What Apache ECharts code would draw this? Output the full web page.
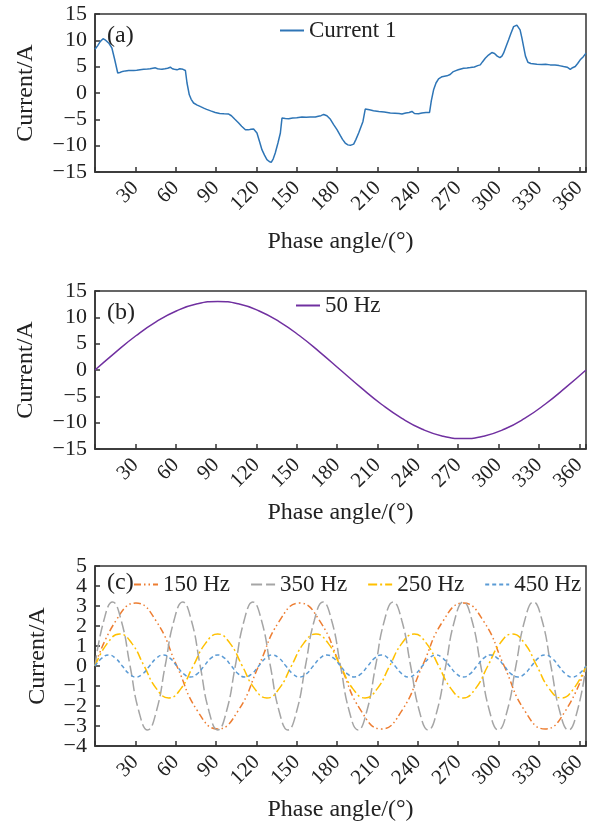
<!DOCTYPE html>
<html>
<head>
<meta charset="utf-8">
<script src="https://cdn.jsdelivr.net/npm/echarts@6/dist/echarts.min.js"></script>
<style>
  html, body { margin: 0; padding: 0; background: #fff; }
  #chart { width: 597px; height: 831px; }
</style>
</head>
<body>
<div id="chart"></div>
<script>
// x tick labels shared by the three panels
const xTickLabels = [30, 60, 90, 120, 150, 180, 210, 240, 270, 300, 330, 360]

// (a) measured current, [phase angle, current]
const current1 = [
  [0, 8.3], [2, 9.0], [4, 9.8], [6, 10.3], [7.5, 10.1], [8.5, 9.95], [10.5, 9.4], [12.6, 8.5],
  [14.5, 6.5], [16.9, 3.8], [18.5, 3.9], [20.5, 4.1], [22.6, 4.2], [25, 4.25], [28.8, 4.27],
  [31, 4.3], [33.5, 4.4], [36.2, 4.5], [39, 4.55], [41, 4.6], [43, 4.7], [44.9, 4.78], [46.5, 4.6],
  [48, 4.55], [49.8, 4.5], [52, 4.6], [54, 4.7], [56, 4.9], [57.5, 4.6], [59, 4.5], [61, 4.4],
  [63, 4.6], [65.4, 4.5], [67.2, 4.27], [68.4, 1.9], [70.1, -0.34], [71.5, -1.2], [73.3, -1.9],
  [76, -2.3], [78.5, -2.6], [80.8, -2.87], [83, -3.1], [86, -3.4], [89.4, -3.7], [92.7, -3.9],
  [96, -3.95], [99.4, -4.0], [101.4, -4.32], [104, -5.0], [106.8, -5.7], [109, -6.3], [111.8, -6.97],
  [114, -7.0], [116, -6.9], [117.9, -6.85], [120.4, -7.6], [122.3, -9.2], [124.1, -10.76],
  [126, -11.8], [127.8, -12.66], [129.5, -13.0], [131, -13.17], [132.5, -12.5], [134, -11.4],
  [136, -9.5], [137.8, -7.6], [139, -4.76], [141.5, -4.85], [144, -4.9], [147, -4.75], [150, -4.7],
  [153.9, -4.57], [157, -4.6], [160, -4.55], [163.8, -4.57], [166, -4.4], [168, -4.3], [170, -4.07],
  [172.4, -4.32], [175, -5.0], [177.4, -6.0], [180, -7.0], [182.4, -8.1], [184, -8.8], [186, -9.5],
  [188, -9.85], [189.8, -9.94], [192.3, -9.7], [194, -8.8], [196, -7.6], [197.6, -6.5],
  [199.2, -5.4], [200.9, -3.05], [204, -3.2], [207, -3.37], [211, -3.5], [215, -3.6], [219.5, -3.8],
  [223, -3.85], [226, -3.9], [228.2, -4.0], [231, -3.8], [233.5, -3.7], [235.6, -3.5], [237.5, -3.9],
  [240.5, -3.94], [243, -3.8], [246, -3.7], [248.7, -3.7], [250, -1.5], [251.7, 0.6], [253.5, 1.9],
  [255.4, 2.7], [258, 3.1], [261.6, 3.26], [264, 3.5], [266, 4.0], [267.8, 4.2], [270, 4.4],
  [274, 4.7], [276.5, 4.75], [279, 4.83], [282, 4.95], [284.5, 5.2], [286.4, 5.34], [288, 5.9],
  [290.1, 6.6], [292.5, 7.2], [295, 7.68], [297, 7.5], [299, 7.0], [301, 6.7], [302.5, 7.0],
  [303.7, 7.56], [305.5, 8.8], [307.4, 10.08], [309.3, 11.4], [311.2, 12.6], [313.6, 12.9],
  [315, 12.6], [316, 12.0], [317.3, 10.5], [318.6, 8.8], [320, 7.0], [321.8, 5.85], [324, 5.6],
  [328.5, 5.47], [332, 5.4], [335, 5.45], [338.4, 5.34], [342, 5.3], [345, 5.2], [348.3, 5.03],
  [351, 4.9], [353.3, 4.5], [355, 4.8], [357, 5.03], [358.8, 5.6], [360.7, 6.3], [363, 6.9], [365, 7.56]
]

// (b) and 150 Hz share these angles
const angle3 = [0, 15.21, 30.42, 45.63, 60.83, 76.04, 91.25, 106.46, 121.67, 136.88, 152.08, 167.29,
  182.5, 197.71, 212.92, 228.13, 243.33, 258.54, 273.75, 288.96, 304.17, 319.38, 334.58, 349.79, 365]
const fundamental = [0, 3.36, 6.5, 9.19, 11.26, 12.56, 13, 12.56, 11.26, 9.19, 6.5, 3.36,
  0, -3.36, -6.5, -9.19, -11.26, -12.56, -13, -12.56, -11.26, -9.19, -6.5, -3.36, 0]
const h150 = [0, 2.23, 3.15, 2.23, 0, -2.23, -3.15, -2.23, 0, 2.23, 3.15, 2.23, 0, -2.23, -3.15, -2.23,
  0, 2.23, 3.15, 2.23, 0, -2.23, -3.15, -2.23, 0]

const angle5 = [0, 9.13, 18.25, 27.38, 36.5, 45.63, 54.75, 63.88, 73, 82.13, 91.25, 100.38, 109.5,
  118.63, 127.75, 136.88, 146, 155.13, 164.25, 173.38, 182.5, 191.63, 200.75, 209.88, 219, 228.13,
  237.25, 246.38, 255.5, 264.63, 273.75, 282.88, 292, 301.13, 310.25, 319.38, 328.5, 337.63, 346.75,
  355.88, 365]
const h250 = [0, 1.13, 1.6, 1.13, 0, -1.13, -1.6, -1.13, 0, 1.13, 1.6, 1.13, 0, -1.13, -1.6, -1.13,
  0, 1.13, 1.6, 1.13, 0, -1.13, -1.6, -1.13, 0, 1.13, 1.6, 1.13, 0, -1.13, -1.6, -1.13,
  0, 1.13, 1.6, 1.13, 0, -1.13, -1.6, -1.13, 0]

const angle7 = [0, 6.52, 13.04, 19.55, 26.07, 32.59, 39.11, 45.63, 52.14, 58.66, 65.18, 71.7, 78.21,
  84.73, 91.25, 97.77, 104.29, 110.8, 117.32, 123.84, 130.36, 136.88, 143.39, 149.91, 156.43, 162.95,
  169.46, 175.98, 182.5, 189.02, 195.54, 202.05, 208.57, 215.09, 221.61, 228.13, 234.64, 241.16,
  247.68, 254.2, 260.71, 267.23, 273.75, 280.27, 286.79, 293.3, 299.82, 306.34, 312.86, 319.38,
  325.89, 332.41, 338.93, 345.45, 351.96, 358.48, 365]
const h350 = [0, 2.26, 3.2, 2.26, 0, -2.26, -3.2, -2.26, 0, 2.26, 3.2, 2.26, 0, -2.26, -3.2, -2.26,
  0, 2.26, 3.2, 2.26, 0, -2.26, -3.2, -2.26, 0, 2.26, 3.2, 2.26, 0, -2.26, -3.2, -2.26,
  0, 2.26, 3.2, 2.26, 0, -2.26, -3.2, -2.26, 0, 2.26, 3.2, 2.26, 0, -2.26, -3.2, -2.26,
  0, 2.26, 3.2, 2.26, 0, -2.26, -3.2, -2.26, 0]

const angle9 = [0, 5.07, 10.14, 15.21, 20.28, 25.35, 30.42, 35.49, 40.56, 45.63, 50.69, 55.76, 60.83,
  65.9, 70.97, 76.04, 81.11, 86.18, 91.25, 96.32, 101.39, 106.46, 111.53, 116.6, 121.67, 126.74,
  131.81, 136.88, 141.94, 147.01, 152.08, 157.15, 162.22, 167.29, 172.36, 177.43, 182.5, 187.57,
  192.64, 197.71, 202.78, 207.85, 212.92, 217.99, 223.06, 228.13, 233.19, 238.26, 243.33, 248.4,
  253.47, 258.54, 263.61, 268.68, 273.75, 278.82, 283.89, 288.96, 294.03, 299.1, 304.17, 309.24,
  314.31, 319.38, 324.44, 329.51, 334.58, 339.65, 344.72, 349.79, 354.86, 359.93, 365]
const h450 = [0, 0.39, 0.55, 0.39, 0, -0.39, -0.55, -0.39, 0, 0.39, 0.55, 0.39, 0, -0.39, -0.55, -0.39,
  0, 0.39, 0.55, 0.39, 0, -0.39, -0.55, -0.39, 0, 0.39, 0.55, 0.39, 0, -0.39, -0.55, -0.39,
  0, 0.39, 0.55, 0.39, 0, -0.39, -0.55, -0.39, 0, 0.39, 0.55, 0.39, 0, -0.39, -0.55, -0.39,
  0, 0.39, 0.55, 0.39, 0, -0.39, -0.55, -0.39, 0, 0.39, 0.55, 0.39, 0, -0.39, -0.55, -0.39,
  0, 0.39, 0.55, 0.39, 0, -0.39, -0.55, -0.39, 0]

const FONT = '"Liberation Serif", "Times New Roman", serif'
const TEXT = '#222'
const AXIS = '#333'

const zip = (xs, ys) => xs.map((x, i) => [x, ys[i]])
const minus = v => v < 0 ? '\u2212' + Math.abs(v) : String(v)

function xAxisOf(idx, gap) {
  return {
    type: 'value', gridIndex: idx, min: 0, max: 365, interval: 30,
    name: 'Phase angle/(°)', nameLocation: 'middle', nameGap: gap,
    nameTextStyle: { fontFamily: FONT, fontSize: 24, color: TEXT },
    axisLine: { show: true, onZero: false, lineStyle: { color: AXIS, width: 1.5 } },
    axisTick: { show: true, inside: true, length: 5, lineStyle: { color: AXIS, width: 1.5 } },
    axisLabel: {
      rotate: 45, margin: 13, fontFamily: FONT, fontSize: 21, color: TEXT,
      formatter: v => xTickLabels.indexOf(v) >= 0 ? String(v) : ''
    },
    splitLine: { show: false }
  }
}

function yAxisOf(idx, min, max, step, gap, fmt) {
  return {
    type: 'value', gridIndex: idx, position: 'left', min: min, max: max, interval: step,
    name: 'Current/A', nameLocation: 'middle', nameGap: gap,
    nameTextStyle: { fontFamily: FONT, fontSize: 24, color: TEXT },
    axisLine: { show: true, onZero: false, lineStyle: { color: AXIS, width: 1.5 } },
    axisTick: { show: true, inside: true, length: 5, lineStyle: { color: AXIS, width: 1.5 } },
    axisLabel: {
      margin: 8, fontFamily: FONT, fontSize: 22, color: TEXT,
      showMinLabel: true, showMaxLabel: true,
      formatter: fmt || minus
    },
    splitLine: { show: false }
  }
}

// panel (c) labels sit 20 px apart, so odd and even ones go on two stacked axes
const evenOnly = v => v % 2 === 0 ? minus(v) : ''
const oddOnly = v => v % 2 !== 0 ? minus(v) : ''
const cOdd = yAxisOf(2, -4, 5, 1, 45, oddOnly)
cOdd.name = ''
cOdd.axisLine = { show: false }
cOdd.axisTick = { show: false }

const legendText = { fontFamily: FONT, fontSize: 23, color: TEXT }
const titleText = { fontFamily: FONT, fontSize: 24, color: TEXT, fontWeight: 'normal' }
// hide the marker that line series put in the middle of the legend icon
const noMarker = { opacity: 0 }

const myChart = echarts.init(document.getElementById('chart'))
const option = {
  animation: false,
  title: [
    { text: '(a)', left: 107, top: 24, padding: 0, textStyle: titleText },
    { text: '(b)', left: 107, top: 301, padding: 0, textStyle: titleText },
    { text: '(c)', left: 107, top: 571, padding: 0, textStyle: titleText }
  ],
  legend: [
    { data: ['Current 1'], left: 279, top: 19, padding: 0, itemWidth: 24, itemHeight: 14, itemStyle: noMarker, textStyle: legendText },
    { data: ['50 Hz'], left: 295, top: 294, padding: 0, itemWidth: 24, itemHeight: 14, itemStyle: noMarker, textStyle: legendText },
    {
      data: ['150 Hz', '350 Hz', '250 Hz', '450 Hz'], left: 133, top: 573, padding: 0,
      itemWidth: 24, itemHeight: 14, itemGap: 20, itemStyle: noMarker, textStyle: legendText
    }
  ],
  grid: [
    { left: 95, right: 11, top: 14, height: 158, show: true, borderColor: AXIS, borderWidth: 1.5 },
    { left: 95, right: 11, top: 291, height: 158, show: true, borderColor: AXIS, borderWidth: 1.5 },
    { left: 95, right: 11, top: 566, height: 180, show: true, borderColor: AXIS, borderWidth: 1.5 }
  ],
  xAxis: [xAxisOf(0, 58), xAxisOf(1, 52), xAxisOf(2, 52)],
  yAxis: [
    yAxisOf(0, -15, 15, 5, 57),
    yAxisOf(1, -15, 15, 5, 57),
    yAxisOf(2, -4, 5, 1, 45, evenOnly),
    cOdd
  ],
  series: [
    {
      name: 'Current 1', type: 'line', xAxisIndex: 0, yAxisIndex: 0, symbol: 'none',
      lineStyle: { color: '#2E75B6', width: 1.5 }, itemStyle: { color: '#2E75B6' },
      data: current1
    },
    {
      name: '50 Hz', type: 'line', xAxisIndex: 1, yAxisIndex: 1, symbol: 'none', smooth: true,
      lineStyle: { color: '#7030A0', width: 1.5 }, itemStyle: { color: '#7030A0' },
      data: zip(angle3, fundamental)
    },
    {
      name: '150 Hz', type: 'line', xAxisIndex: 2, yAxisIndex: 2, symbol: 'none', smooth: true,
      lineStyle: { color: '#ED7D31', width: 1.5, type: [7, 3, 1.5, 3, 1.5, 3] }, itemStyle: { color: '#ED7D31' },
      data: zip(angle3, h150)
    },
    {
      name: '350 Hz', type: 'line', xAxisIndex: 2, yAxisIndex: 2, symbol: 'none', smooth: true,
      lineStyle: { color: '#A5A5A5', width: 1.5, type: [11, 4] }, itemStyle: { color: '#A5A5A5' },
      data: zip(angle7, h350)
    },
    {
      name: '250 Hz', type: 'line', xAxisIndex: 2, yAxisIndex: 2, symbol: 'none', smooth: true,
      lineStyle: { color: '#FFC000', width: 1.5, type: [9, 3, 2, 3] }, itemStyle: { color: '#FFC000' },
      data: zip(angle5, h250)
    },
    {
      name: '450 Hz', type: 'line', xAxisIndex: 2, yAxisIndex: 2, symbol: 'none', smooth: true,
      lineStyle: { color: '#5B9BD5', width: 1.5, type: [4, 3] }, itemStyle: { color: '#5B9BD5' },
      data: zip(angle9, h450)
    }
  ]
}

option && myChart.setOption(option)
</script>
</body>
</html>
